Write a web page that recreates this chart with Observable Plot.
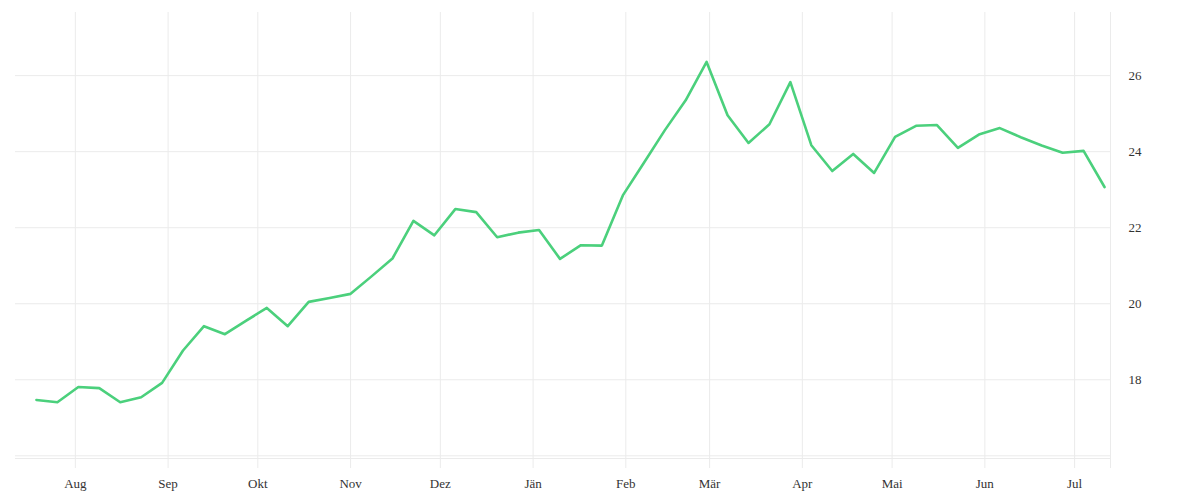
<!DOCTYPE html>
<html>
<head>
<meta charset="utf-8">
<script src="https://cdn.jsdelivr.net/npm/d3@7"></script>
<script src="https://cdn.jsdelivr.net/npm/@observablehq/plot@0.6"></script>
<style>
  html, body { margin: 0; padding: 0; background: #fff; }
  #chart { width: 1200px; height: 500px; }
</style>
</head>
<body>
<div id="chart"></div>
<script>
const dates = [
  "2022-07-19","2022-07-26","2022-08-02","2022-08-09","2022-08-16","2022-08-23","2022-08-30",
  "2022-09-06","2022-09-13","2022-09-20","2022-09-27","2022-10-04","2022-10-11","2022-10-18",
  "2022-10-25","2022-11-01","2022-11-08","2022-11-15","2022-11-22","2022-11-29","2022-12-06",
  "2022-12-13","2022-12-20","2022-12-27","2023-01-03","2023-01-10","2023-01-17","2023-01-24",
  "2023-01-31","2023-02-07","2023-02-14","2023-02-21","2023-02-28","2023-03-07","2023-03-14",
  "2023-03-21","2023-03-28","2023-04-04","2023-04-11","2023-04-18","2023-04-25","2023-05-02",
  "2023-05-09","2023-05-16","2023-05-23","2023-05-30","2023-06-06","2023-06-13","2023-06-20",
  "2023-06-27","2023-07-04","2023-07-11"
];
const values = [
  17.47,17.41,17.81,17.78,17.41,17.54,17.92,
  18.77,19.41,19.20,19.55,19.89,19.41,20.05,
  20.15,20.26,20.72,21.19,22.18,21.80,22.49,
  22.41,21.75,21.87,21.94,21.18,21.54,21.53,
  22.85,23.70,24.56,25.35,26.36,24.96,24.23,
  24.72,25.83,24.17,23.49,23.94,23.44,24.39,
  24.68,24.70,24.10,24.45,24.62,24.38,24.16,
  23.97,24.02,23.07
];
const monthTicks = [
  "2022-08-01","2022-09-01","2022-10-01","2022-11-01","2022-12-01","2023-01-01",
  "2023-02-01","2023-03-01","2023-04-01","2023-05-01","2023-06-01","2023-07-01"
];
const monthLabels = ["Aug","Sep","Okt","Nov","Dez","Jän","Feb","Mär","Apr","Mai","Jun","Jul"];
const yGrid = [16, 18, 20, 22, 24, 26];
const yLabels = [18, 20, 22, 24, 26];
const xDomain = ["2022-07-12", "2023-07-13"];
const yDomain = [15.93, 27.66];

const data = dates.map((d, i) => ({date: new Date(d), value: values[i]}));
const tickDates = monthTicks.map(d => new Date(d));
const labelOf = new Map(tickDates.map((d, i) => [+d, monthLabels[i]]));
const gridColor = "#ebebeb";

const chart = Plot.plot({
  width: 1200,
  height: 500,
  marginLeft: 15,
  marginRight: 90,
  marginTop: 12,
  marginBottom: 42,
  style: {fontFamily: "Liberation Serif", fontSize: "13px", color: "#333", background: "#fff"},
  x: {type: "utc", domain: xDomain.map(d => new Date(d)), label: null},
  y: {domain: yDomain, label: null},
  marks: [
    Plot.ruleY(yGrid, {stroke: gridColor, strokeWidth: 1}),
    Plot.ruleY([yDomain[0]], {stroke: gridColor, strokeWidth: 1}),
    Plot.ruleX(tickDates, {stroke: gridColor, strokeWidth: 1, insetBottom: -10}),
    Plot.ruleX([new Date(xDomain[1])], {stroke: gridColor, strokeWidth: 1, insetBottom: -10}),
    Plot.axisX(tickDates, {tickSize: 0, tickPadding: 20, tickFormat: d => labelOf.get(+d), fill: "#333", fontSize: 13, label: null}),
    Plot.axisY(yLabels, {anchor: "right", tickSize: 0, tickPadding: 18, textAnchor: "start", fill: "#333", fontSize: 13, label: null}),
    Plot.line(data, {x: "date", y: "value", stroke: "#4bd07c", strokeWidth: 2.6, curve: "linear"})
  ]
});
document.getElementById("chart").appendChild(chart);
</script>
</body>
</html>
